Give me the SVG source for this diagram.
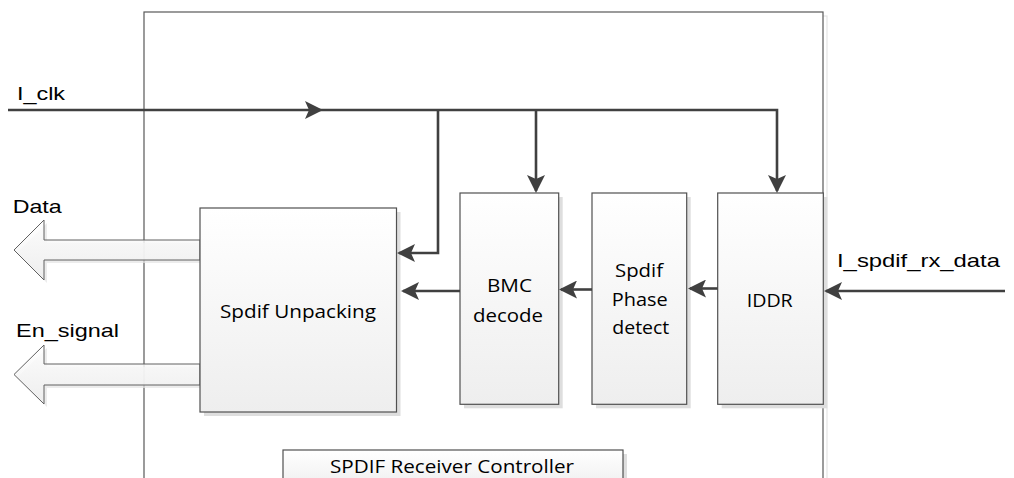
<svg xmlns="http://www.w3.org/2000/svg" width="1014" height="478" viewBox="0 0 1014 478">
<style>
.lbl{font-family:"Liberation Sans",Arial,sans-serif;font-size:19px;fill:#000}
.blk{font-family:"Open Sans","Noto Sans",sans-serif;font-size:19px;fill:#000}
.box{fill:url(#g);stroke:#505050;stroke-width:1.2}
.sh{fill:#dedede}
.wire{fill:none;stroke:#404040;stroke-width:2.6;marker-end:url(#ah)}
.fat{fill:url(#g);fill-opacity:0.85;stroke:#606060;stroke-width:1}
</style>
<defs>
<linearGradient id="g" x1="0" y1="0" x2="0" y2="1">
<stop offset="0" stop-color="#ffffff"/>
<stop offset="1" stop-color="#eeeeee"/>
</linearGradient>
<marker id="ah" viewBox="0 0 18 18" refX="16" refY="9" markerWidth="18" markerHeight="18" markerUnits="userSpaceOnUse" orient="auto">
<path d="M0,0 L18,9 L0,18 L4,9 Z" fill="#404040"/>
</marker>
</defs>
<rect width="1014" height="478" fill="#ffffff"/>
<g id="container">
<rect x="148" y="16" width="679" height="500" fill="none" stroke="#e4e4e4" stroke-width="1.2"/>
<rect x="144" y="12" width="679" height="500" fill="#ffffff" stroke="#595959" stroke-width="1.2"/>
</g>
<g id="title">
<rect class="sh" x="287" y="454" width="340" height="40"/>
<rect class="box" x="283" y="450" width="340" height="40"/>
<text class="blk" x="330" y="473" textLength="244" lengthAdjust="spacingAndGlyphs">SPDIF Receiver Controller</text>
</g>
<g id="data-out">
<polygon points="17,253 47,223 47,243 203,243 203,263 47,263 47,283" fill="#e4e4e4" fill-opacity="0.7"/>
<polygon class="fat" points="14,250 44,220 44,240 200,240 200,260 44,260 44,280"/>
<text class="lbl" x="12.7" y="213" textLength="49" lengthAdjust="spacingAndGlyphs">Data</text>
</g>
<g id="en-out">
<polygon points="17,377.5 47,348 47,367 203,367 203,388 47,388 47,407" fill="#e4e4e4" fill-opacity="0.7"/>
<polygon class="fat" points="14,374.5 44,345 44,364 200,364 200,385 44,385 44,404"/>
<text class="lbl" x="16" y="337" textLength="103" lengthAdjust="spacingAndGlyphs">En_signal</text>
</g>
<g id="unpacking">
<rect class="sh" x="204" y="212" width="196.5" height="204"/>
<rect class="box" x="200" y="208" width="196.5" height="204"/>
<text class="blk" x="220" y="318" textLength="156" lengthAdjust="spacingAndGlyphs">Spdif Unpacking</text>
</g>
<g id="bmc">
<rect class="sh" x="464" y="197" width="98.7" height="211.3"/>
<rect class="box" x="460" y="193" width="98.7" height="211.3"/>
<text class="blk" x="487" y="292" textLength="45" lengthAdjust="spacingAndGlyphs">BMC</text>
<text class="blk" x="473" y="321.5" textLength="70" lengthAdjust="spacingAndGlyphs">decode</text>
</g>
<g id="phase">
<rect class="sh" x="596" y="197" width="94.7" height="211.3"/>
<rect class="box" x="592" y="193" width="94.7" height="211.3"/>
<text class="blk" x="615" y="277" textLength="48" lengthAdjust="spacingAndGlyphs">Spdif</text>
<text class="blk" x="611.7" y="306" textLength="56" lengthAdjust="spacingAndGlyphs">Phase</text>
<text class="blk" x="612.3" y="334" textLength="57" lengthAdjust="spacingAndGlyphs">detect</text>
</g>
<g id="iddr">
<rect class="sh" x="721.7" y="197" width="105.6" height="211.3"/>
<rect class="box" x="717.7" y="193" width="105.6" height="211.3"/>
<text class="blk" x="746.7" y="306.7" textLength="46" lengthAdjust="spacingAndGlyphs">IDDR</text>
</g>
<g id="connectors">
<path class="wire" d="M8,110 H321"/>
<path class="wire" d="M321,110 H777 V191"/>
<path class="wire" d="M438,110 V253 H399"/>
<path class="wire" d="M536,110 V191"/>
<path class="wire" d="M460,291 H403"/>
<path class="wire" d="M592,289.5 H561"/>
<path class="wire" d="M717.7,288.5 H690"/>
<path class="wire" d="M1005,291 H826"/>
</g>
<g id="labels">
<text class="lbl" x="17" y="100" textLength="48" lengthAdjust="spacingAndGlyphs">I_clk</text>
<text class="lbl" x="837" y="267" textLength="163" lengthAdjust="spacingAndGlyphs">I_spdif_rx_data</text>
</g>
</svg>
